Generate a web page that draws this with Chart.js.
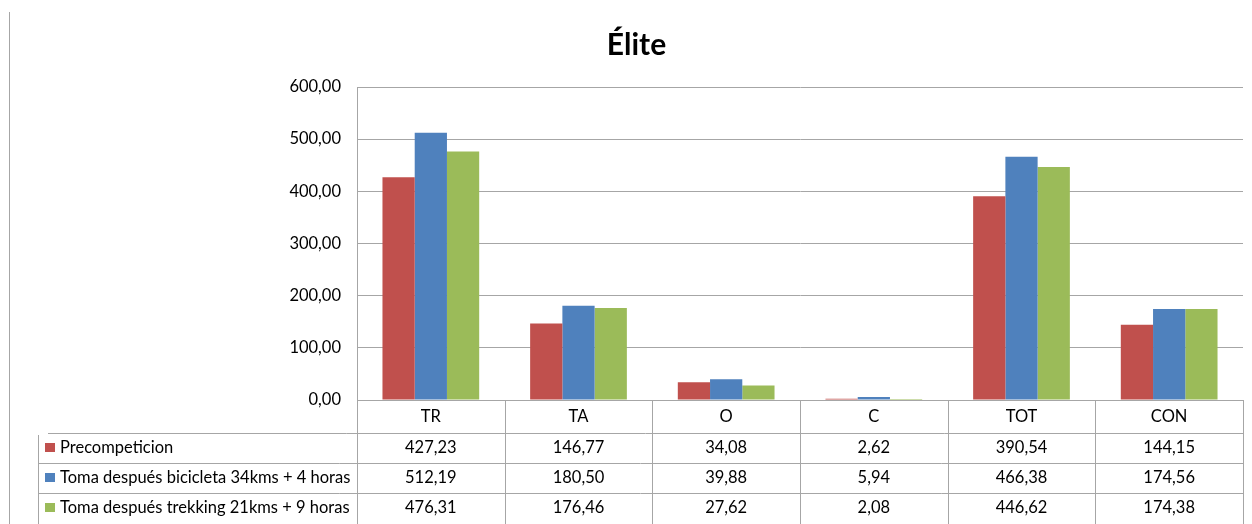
<!DOCTYPE html>
<html>
<head>
<meta charset="utf-8">
<title>Élite</title>
<script src="https://cdn.jsdelivr.net/npm/chart.js@4.4.0/dist/chart.umd.min.js"></script>
<style>
  body { margin: 0; background: #fff; }
  canvas { display: block; }
</style>
</head>
<body>
<canvas id="eliteChart" width="1252" height="524"></canvas>
<script>
// data
const categories = ['TR', 'TA', 'O', 'C', 'TOT', 'CON'];
const seriesNames = [
    'Precompeticion',
    'Toma después bicicleta 34kms + 4 horas',
    'Toma después trekking 21kms + 9 horas'
];
const precompeticion = [427.23, 146.77, 34.08, 2.62, 390.54, 144.15];
const despuesBicicleta = [512.19, 180.50, 39.88, 5.94, 466.38, 174.56];
const despuesTrekking = [476.31, 176.46, 27.62, 2.08, 446.62, 174.38];
const yTicks = [0, 100, 200, 300, 400, 500, 600];

const seriesColors = ['#C0504D', '#4F81BD', '#9BBB59'];
const lineColor = '#A6A6A6';
const fontFamily = "Lato, 'Open Sans', sans-serif";
const textSize = 16.5;

const fmt = (v) => v.toFixed(2).replace('.', ',');

Chart.defaults.font.family = fontFamily;
Chart.defaults.color = '#000';

/* data table under the plot, laid out from the x scale */
const dataTablePlugin = {
    id: 'dataTable',
    afterDraw(chart) {
        const ctx = chart.ctx;
        const x = chart.scales.x;
        const area = chart.chartArea;
        const n = categories.length;
        const colW = (x.right - x.left) / n;
        const headerBottom = area.bottom + 33;
        const rowH = 30;
        const tableBottom = chart.height;
        const keyLeft = 38;
        const allSeries = [precompeticion, despuesBicicleta, despuesTrekking];

        ctx.save();
        ctx.strokeStyle = lineColor;
        ctx.lineWidth = 1;

        // outer chart border (left side only visible)
        ctx.beginPath();
        ctx.moveTo(9.5, 12);
        ctx.lineTo(9.5, chart.height);
        ctx.stroke();

        ctx.beginPath();
        // y axis line carried down through the table
        ctx.moveTo(Math.round(x.left) + 0.5, area.bottom);
        ctx.lineTo(Math.round(x.left) + 0.5, tableBottom);
        // column separators
        for (let i = 1; i <= n; i++) {
            const cx = Math.round(x.left + colW * i) + 0.5;
            ctx.moveTo(cx, area.bottom);
            ctx.lineTo(cx, tableBottom);
        }
        // legend column left edge
        ctx.moveTo(keyLeft + 0.5, headerBottom + 2);
        ctx.lineTo(keyLeft + 0.5, tableBottom);
        // row lines
        for (let r = 0; r < allSeries.length; r++) {
            const ry = Math.round(headerBottom + rowH * r) + 0.5;
            ctx.moveTo(r === 0 ? 48 : keyLeft, ry);
            ctx.lineTo(x.right, ry);
        }
        ctx.stroke();

        ctx.font = textSize + 'px ' + fontFamily;
        ctx.textBaseline = 'middle';
        allSeries.forEach((values, r) => {
            const cy = headerBottom + rowH * r + rowH / 2;
            // legend key + series name
            ctx.fillStyle = seriesColors[r];
            ctx.fillRect(45, Math.round(cy - 5), 10, 9);
            ctx.fillStyle = '#000';
            ctx.textAlign = 'left';
            ctx.fillText(seriesNames[r], 60, cy);
            // values
            ctx.textAlign = 'center';
            values.forEach((v, i) => {
                ctx.fillText(fmt(v), x.getPixelForValue(i), cy);
            });
        });
        ctx.restore();
    }
};

new Chart(document.getElementById('eliteChart').getContext('2d'), {
    type: 'bar',
    data: {
        labels: categories,
        datasets: [
            { label: seriesNames[0], data: precompeticion, backgroundColor: seriesColors[0] },
            { label: seriesNames[1], data: despuesBicicleta, backgroundColor: seriesColors[1] },
            { label: seriesNames[2], data: despuesTrekking, backgroundColor: seriesColors[2] }
        ]
    },
    options: {
        responsive: false,
        animation: false,
        layout: { padding: { left: 30, right: 9, top: 0, bottom: 0 } },
        datasets: {
            bar: { categoryPercentage: 0.655, barPercentage: 1.0 }
        },
        plugins: {
            legend: { display: false },
            title: {
                display: true,
                text: 'Élite',
                color: '#000',
                font: { size: 30, weight: 'bold', family: fontFamily },
                padding: { top: 27, bottom: 24 }
            },
            tooltip: { callbacks: { label: (c) => c.dataset.label + ': ' + fmt(c.parsed.y) } }
        },
        scales: {
            x: {
                grid: { display: false, drawTicks: false },
                border: { display: true, color: lineColor },
                ticks: { color: '#000', font: { size: textSize }, padding: 7, maxRotation: 0 },
                afterFit: (s) => { s.height = 124; }
            },
            y: {
                min: 0,
                max: 600,
                afterBuildTicks: (s) => { s.ticks = yTicks.map(v => ({ value: v })); },
                grid: { color: lineColor, drawTicks: false },
                border: { display: true, color: lineColor },
                ticks: {
                    color: '#000',
                    font: { size: textSize },
                    padding: 16,
                    callback: (v) => fmt(v)
                },
                afterFit: (s) => { s.width = 327; }
            }
        }
    },
    plugins: [dataTablePlugin]
});
</script>
</body>
</html>
